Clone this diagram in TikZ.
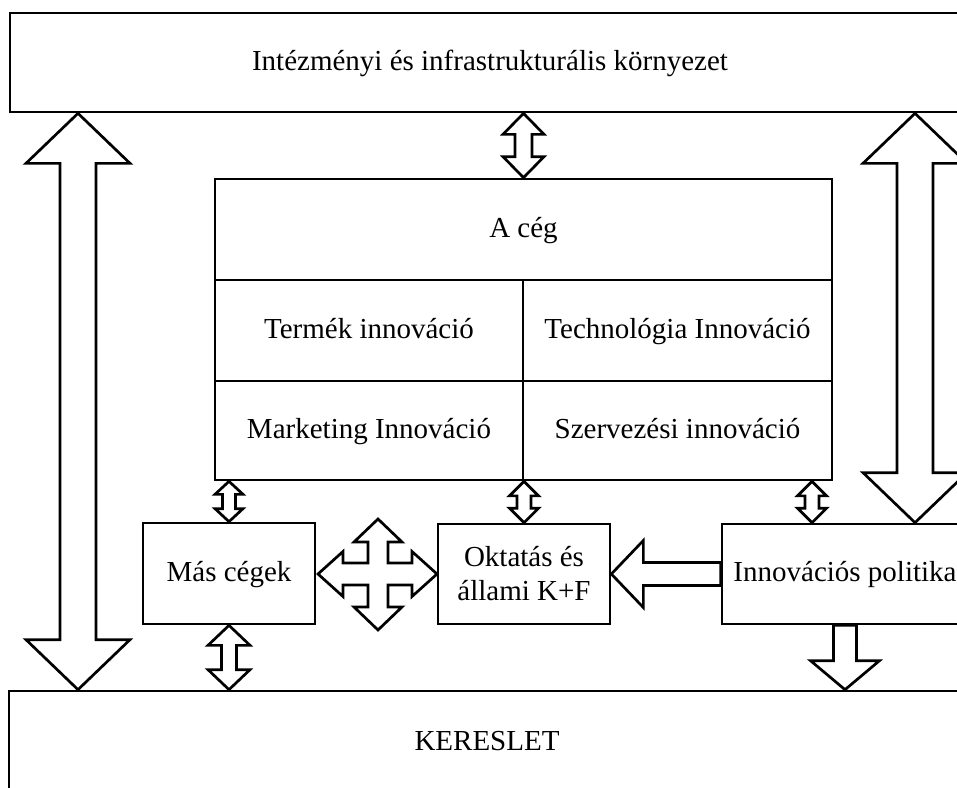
\documentclass[tikz,border=0pt]{standalone}
\usepackage{fontspec}
\setmainfont{Liberation Serif}
\usetikzlibrary{calc}
\tikzset{
  box/.style={draw, line width=2.7pt, inner sep=0pt, rectangle, font=\fontsize{29}{34}\selectfont},
  onel/.style={text height=20pt, text depth=5pt},
  arr/.style={draw, line width=2.7pt, line join=miter}
}
% double-headed vertical block arrow: #1 top tip, #2 bottom tip, #3 head half width, #4 shaft half width, #5 head length
\newcommand{\dblV}[5]{\draw[arr] let \p1=(#1), \p2=(#2) in
  (\x1,\y1) -- (\x1+#3pt,\y1-#5pt) -- (\x1+#4pt,\y1-#5pt) -- (\x1+#4pt,\y2+#5pt) -- (\x1+#3pt,\y2+#5pt)
  -- (\x1,\y2) -- (\x1-#3pt,\y2+#5pt) -- (\x1-#4pt,\y2+#5pt) -- (\x1-#4pt,\y1-#5pt) -- (\x1-#3pt,\y1-#5pt) -- cycle;}
% single down arrow: #1 start (top), #2 tip
\newcommand{\downA}[5]{\draw[arr] let \p1=(#1), \p2=(#2) in
  (\x1-#4pt,\y1) -- (\x1+#4pt,\y1) -- (\x1+#4pt,\y2+#5pt) -- (\x1+#3pt,\y2+#5pt) -- (\x1,\y2)
  -- (\x1-#3pt,\y2+#5pt) -- (\x1-#4pt,\y2+#5pt) -- cycle;}
% single left arrow: #1 start (right), #2 tip (left)
\newcommand{\leftA}[5]{\draw[arr] let \p1=(#1), \p2=(#2) in
  (\x1,\y1+#4pt) -- (\x2+#5pt,\y1+#4pt) -- (\x2+#5pt,\y1+#3pt) -- (\x2,\y1) -- (\x2+#5pt,\y1-#3pt)
  -- (\x2+#5pt,\y1-#4pt) -- (\x1,\y1-#4pt) -- cycle;}
\begin{document}
\begin{tikzpicture}[x=1pt,y=-1pt]
\useasboundingbox (0,0) rectangle (957,787);
\clip (0,0) rectangle (957,787);
\fill[white] (0,0) rectangle (957,787);

\node[box, onel, minimum width=960pt, minimum height=99pt] (env) at (490,62.5) {Intézményi és infrastrukturális környezet};
\node[box, onel, minimum width=617pt, minimum height=101pt] (ceg) at (523.5,229.5) {A cég};
\node[box, onel, minimum width=308pt, minimum height=101pt] (term) at (369,330.5) {Termék innováció};
\node[box, onel, minimum width=309pt, minimum height=101pt] (tech) at (677.5,330.5) {Technológia Innováció};
\node[box, onel, minimum width=308pt, minimum height=99pt] (mkt) at (369,430.5) {Marketing Innováció};
\node[box, onel, minimum width=309pt, minimum height=99pt] (szerv) at (677.5,430.5) {Szervezési innováció};
\node[box, onel, minimum width=172pt, minimum height=101pt] (mas) at (229,573.5) {Más cégek};
\node[box, minimum width=172pt, minimum height=100pt, align=center] (okt) at (524,574) {Oktatás és\\állami K+F};
\node[box, onel, minimum width=246pt, minimum height=100pt] (innov) at (845,574) {Innovációs politika};
\node[box, onel, minimum width=956pt, minimum height=104pt] (dem) at (487,743) {KERESLET};

\coordinate (la) at (78,0);
\coordinate (ra) at (915,0);
\coordinate (ia) at (812,0);
\coordinate (cross) at (378,574);

% big side arrows
\dblV{env.south -| la}{dem.north -| la}{52}{18}{50}
\dblV{env.south -| ra}{innov.north -| ra}{52}{18}{50}
% environment <-> company
\dblV{env.south -| ceg.north}{ceg.north}{20.5}{8.5}{21}
% company <-> lower boxes
\dblV{mkt.south -| mas.north}{mas.north}{14}{6.5}{13}
\dblV{mkt.south -| okt.north}{okt.north}{14.5}{7}{14.5}
\dblV{szerv.south -| ia}{innov.north -| ia}{14.5}{7}{14.5}
% Mas cegek <-> kereslet
\dblV{mas.south}{dem.north -| mas.south}{21}{7.5}{20}
% innovacios politika -> kereslet
\downA{innov.south}{dem.north -| innov.south}{34.5}{11.5}{29}
% innovacios politika -> oktatas
\leftA{innov.west}{okt.east}{33.5}{11.5}{32}
% four-way arrow
\draw[arr, shift={(cross)}]
  (0,-55) -- (24,-32) -- (10,-32) -- (10,-11) -- (34,-11) -- (34,-22.5) -- (59,0)
  -- (34,22.5) -- (34,11) -- (10,11) -- (10,33) -- (24,33) -- (0,56)
  -- (-24,33) -- (-10,33) -- (-10,11) -- (-35,11) -- (-35,22.5) -- (-60,0)
  -- (-35,-22.5) -- (-35,-11) -- (-10,-11) -- (-10,-32) -- (-24,-32) -- cycle;
\end{tikzpicture}
\end{document}
